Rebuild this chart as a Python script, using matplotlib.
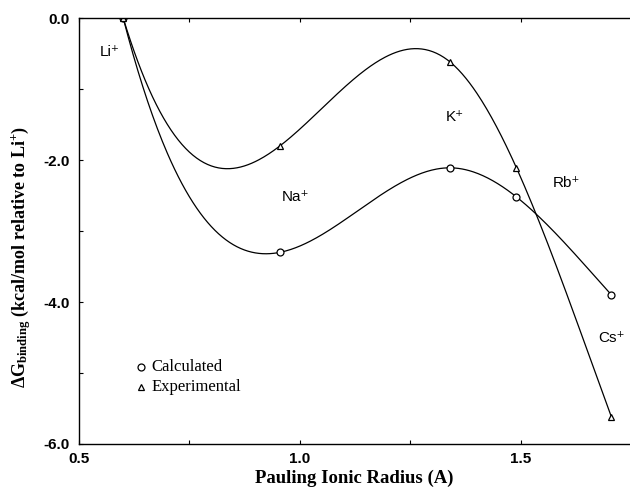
import numpy as np
import matplotlib
matplotlib.use('Agg')
import matplotlib.pyplot as plt

plt.rcParams['mathtext.fontset'] = 'custom'
plt.rcParams['mathtext.rm'] = 'Liberation Serif:bold'
plt.rcParams['mathtext.bf'] = 'Liberation Serif:bold'
plt.rcParams['mathtext.it'] = 'Liberation Serif:bold'

# ion radii (as placed on the plot) and binding free energies
ions = ['Li⁺', 'Na⁺', 'K⁺', 'Rb⁺', 'Cs⁺']
radius = [0.60, 0.955, 1.34, 1.49, 1.705]
dg_calc = [0.0, -3.30, -2.11, -2.52, -3.90]
dg_expt = [0.0, -1.80, -0.62, -2.11, -5.62]

# label positions for the ion names
lab_x = [0.570, 0.989, 1.351, 1.604, 1.704]
lab_y = [-0.48, -2.52, -1.39, -2.33, -4.51]


def spline_nak(x, y, xs):
    # cubic spline, not-a-knot ends, solved as one linear system
    x = np.asarray(x, float)
    y = np.asarray(y, float)
    n = len(x) - 1
    A = np.zeros((4*n, 4*n))
    b = np.zeros(4*n)
    r = 0
    for i in range(n):
        for xv, yv in ((x[i], y[i]), (x[i+1], y[i+1])):
            d = xv - x[i]
            A[r, 4*i:4*i+4] = [1, d, d**2, d**3]
            b[r] = yv
            r += 1
    for i in range(n-1):
        d = x[i+1] - x[i]
        A[r, 4*i:4*i+4] = [0, 1, 2*d, 3*d**2]
        A[r, 4*i+5] = -1
        r += 1
        A[r, 4*i:4*i+4] = [0, 0, 2, 6*d]
        A[r, 4*i+6] = -2
        r += 1
    A[r, 3] = 1
    A[r, 7] = -1
    r += 1
    A[r, 4*(n-2)+3] = 1
    A[r, 4*(n-1)+3] = -1
    c = np.linalg.solve(A, b)
    out = np.zeros_like(xs)
    for k, xv in enumerate(xs):
        i = min(max(np.searchsorted(x, xv) - 1, 0), n-1)
        d = xv - x[i]
        out[k] = c[4*i] + c[4*i+1]*d + c[4*i+2]*d**2 + c[4*i+3]*d**3
    return out


xs = np.linspace(radius[0], radius[-1], 400)

fig = plt.figure(figsize=(6.3, 4.87), dpi=100)
ax = fig.add_axes([0.1254, 0.0883, 0.8746, 0.8747])

ax.plot(xs, spline_nak(radius, dg_calc, xs), 'k-', lw=0.9)
ax.plot(xs, spline_nak(radius, dg_expt, xs), 'k-', lw=0.9)
ax.plot(radius, dg_calc, 'o', mfc='white', mec='k', ms=5, mew=0.9)
ax.plot(radius, dg_expt, '^', mfc='white', mec='k', ms=5, mew=0.9)

for name, px, py in zip(ions, lab_x, lab_y):
    ax.text(px, py, name, ha='center', va='center', fontsize=11,
            family=['Liberation Sans', 'DejaVu Sans'])

# legend drawn by hand like the original
ax.plot([0.64], [-4.92], 'o', mfc='white', mec='k', ms=5, mew=0.9)
ax.plot([0.64], [-5.2], '^', mfc='white', mec='k', ms=5, mew=0.9)
ax.text(0.663, -4.92, 'Calculated', va='center', fontsize=12,
        family='Liberation Serif')
ax.text(0.663, -5.2, 'Experimental', va='center', fontsize=12,
        family='Liberation Serif')

ax.set_xlim(0.5, 1.747)
ax.set_ylim(-6.0, 0.0)
ax.set_xticks([0.5, 1.0, 1.5])
ax.set_xticks([0.75, 1.25], minor=True)
ax.set_yticks([-6.0, -4.0, -2.0, 0.0])
ax.set_yticks([-5.0, -3.0, -1.0], minor=True)
ax.set_xticklabels(['0.5', '1.0', '1.5'])
ax.set_yticklabels(['-6.0', '-4.0', '-2.0', '0.0'])
ax.tick_params(which='both', direction='in', top=True, right=False,
               length=3, width=0.8)
ax.tick_params(axis='y', pad=7)
ax.tick_params(axis='x', pad=5.5)
for lab in ax.get_xticklabels() + ax.get_yticklabels():
    lab.set_family('Liberation Sans')
    lab.set_fontweight('bold')
    lab.set_fontsize(11)
ax.spines['right'].set_visible(False)
for s in ['left', 'bottom', 'top']:
    ax.spines[s].set_linewidth(1.0)

ax.set_xlabel('Pauling Ionic Radius (A)', family='Liberation Serif',
              fontweight='bold', fontsize=13.5, labelpad=3)
ax.set_ylabel(r'$\Delta\mathrm{G}_{\mathrm{binding}}$ (kcal/mol relative to Li$^{+}$)',
              family='Liberation Serif', fontweight='bold', fontsize=13)
ax.yaxis.set_label_coords(-0.083, 0.44)

plt.savefig('out.png', dpi=100)
